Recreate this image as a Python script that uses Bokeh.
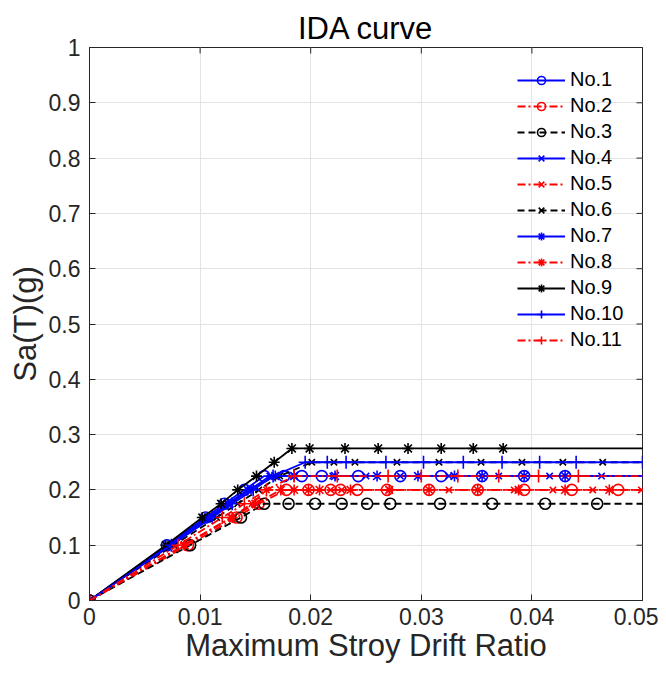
import math
from bokeh.plotting import figure
from bokeh.models import Range1d, FixedTicker, Legend, LegendItem
from bokeh.embed import file_html
from bokeh.resources import INLINE

x_ticks = [0, 0.01, 0.02, 0.03, 0.04, 0.05]
x_tick_labels = ["0", "0.01", "0.02", "0.03", "0.04", "0.05"]
y_ticks = [0, 0.1, 0.2, 0.3, 0.4, 0.5, 0.6, 0.7, 0.8, 0.9, 1.0]
y_tick_labels = ["0", "0.1", "0.2", "0.3", "0.4", "0.5", "0.6", "0.7", "0.8", "0.9", "1"]

names = ["No.1", "No.2", "No.3", "No.4", "No.5", "No.6", "No.7", "No.8", "No.9", "No.10", "No.11"]

no1_drift = [0, 0.0070, 0.0105, 0.0122, 0.0140, 0.0158, 0.0176, 0.0192, 0.0210, 0.0243, 0.0281, 0.0318, 0.0355, 0.0393, 0.0430, 0.0600]
no1_sa = [0, 0.1, 0.15, 0.175, 0.2, 0.225, 0.225, 0.225, 0.225, 0.225, 0.225, 0.225, 0.225, 0.225, 0.225, 0.225]

no2_drift = [0, 0.0089, 0.0133, 0.0153, 0.0178, 0.0198, 0.0218, 0.0227, 0.0242, 0.0269, 0.0307, 0.0351, 0.0393, 0.0436, 0.0478, 0.0600]
no2_sa = [0, 0.1, 0.15, 0.175, 0.2, 0.2, 0.2, 0.2, 0.2, 0.2, 0.2, 0.2, 0.2, 0.2, 0.2, 0.2]

no3_drift = [0, 0.0091, 0.0137, 0.0158, 0.0180, 0.0204, 0.0228, 0.0251, 0.0272, 0.0317, 0.0364, 0.0412, 0.0459, 0.0600]
no3_sa = [0, 0.1, 0.15, 0.175, 0.175, 0.175, 0.175, 0.175, 0.175, 0.175, 0.175, 0.175, 0.175, 0.175]

no4_drift = [0, 0.0073, 0.0109, 0.0127, 0.0145, 0.0163, 0.0185, 0.0220, 0.0250, 0.0281, 0.0325, 0.0370, 0.0416, 0.0463, 0.0600]
no4_sa = [0, 0.1, 0.15, 0.175, 0.2, 0.225, 0.225, 0.225, 0.225, 0.225, 0.225, 0.225, 0.225, 0.225, 0.225]

no5_drift = [0, 0.0085, 0.0128, 0.0147, 0.0160, 0.0218, 0.0228, 0.0271, 0.0325, 0.0384, 0.0419, 0.0455, 0.0499]
no5_sa = [0, 0.1, 0.15, 0.175, 0.2, 0.2, 0.2, 0.2, 0.2, 0.2, 0.2, 0.2, 0.2]

no6_drift = [0, 0.0076, 0.0115, 0.0134, 0.0153, 0.0172, 0.0201, 0.0221, 0.0240, 0.0278, 0.0316, 0.0354, 0.0391, 0.0428, 0.0464, 0.0600]
no6_sa = [0, 0.1, 0.15, 0.175, 0.2, 0.225, 0.25, 0.25, 0.25, 0.25, 0.25, 0.25, 0.25, 0.25, 0.25, 0.25]

no7_drift = [0, 0.0071, 0.0107, 0.0125, 0.0143, 0.0168, 0.0185, 0.0222, 0.0260, 0.0297, 0.0330, 0.0355, 0.0393, 0.0430, 0.0600]
no7_sa = [0, 0.1, 0.15, 0.175, 0.2, 0.225, 0.225, 0.225, 0.225, 0.225, 0.225, 0.225, 0.225, 0.225, 0.225]

no8_drift = [0, 0.0086, 0.0129, 0.0150, 0.0173, 0.0185, 0.0198, 0.0208, 0.0236, 0.0271, 0.0307, 0.0351, 0.0388, 0.0430, 0.0470, 0.0600]
no8_sa = [0, 0.1, 0.15, 0.175, 0.2, 0.2, 0.2, 0.2, 0.2, 0.2, 0.2, 0.2, 0.2, 0.2, 0.2, 0.2]

no9_drift = [0, 0.0069, 0.0102, 0.0119, 0.0134, 0.0151, 0.0167, 0.0183, 0.0199, 0.0231, 0.0261, 0.0288, 0.0318, 0.0347, 0.0374, 0.0600]
no9_sa = [0, 0.1, 0.15, 0.175, 0.2, 0.225, 0.25, 0.275, 0.275, 0.275, 0.275, 0.275, 0.275, 0.275, 0.275, 0.275]

no10_drift = [0, 0.0074, 0.0111, 0.0129, 0.0148, 0.0166, 0.0195, 0.0215, 0.0232, 0.0268, 0.0302, 0.0338, 0.0373, 0.0407, 0.0440, 0.0500]
no10_sa = [0, 0.1, 0.15, 0.175, 0.2, 0.225, 0.25, 0.25, 0.25, 0.25, 0.25, 0.25, 0.25, 0.25, 0.25, 0.25]

no11_drift = [0, 0.0080, 0.0120, 0.0140, 0.0160, 0.0185, 0.0224, 0.0270, 0.0300, 0.0333, 0.0370, 0.0406, 0.0442, 0.0600]
no11_sa = [0, 0.1, 0.15, 0.175, 0.2, 0.225, 0.225, 0.225, 0.225, 0.225, 0.225, 0.225, 0.225, 0.225]

drifts = [no1_drift, no2_drift, no3_drift, no4_drift, no5_drift, no6_drift,
          no7_drift, no8_drift, no9_drift, no10_drift, no11_drift]
sas = [no1_sa, no2_sa, no3_sa, no4_sa, no5_sa, no6_sa,
       no7_sa, no8_sa, no9_sa, no10_sa, no11_sa]

BLUE, RED, BLACK = "#0000ff", "#ff0000", "#000000"
SOLID, DASH, DASHDOT = "solid", "7 4", "8 3 2 3"
colors = [BLUE, RED, BLACK, BLUE, RED, BLACK, BLUE, RED, BLACK, BLUE, RED]
dashes = [SOLID, DASHDOT, DASH, SOLID, DASHDOT, DASH, SOLID, DASHDOT, SOLID, SOLID, DASHDOT]
markers = ["circle", "circle", "circle", "x", "x", "x", "asterisk", "asterisk", "asterisk", "cross", "cross"]
msizes = {"circle": 11, "x": 9, "asterisk": 11, "cross": 13}

AX = "#262626"
FONT = "Liberation Sans"

p = figure(width=658, height=676, output_backend="svg", toolbar_location=None,
           x_range=Range1d(0, 0.05), y_range=Range1d(0, 1),
           min_border_left=89, min_border_right=16, min_border_top=47, min_border_bottom=76)
p.background_fill_color = "white"
p.border_fill_color = "white"
p.outline_line_color = AX
p.outline_line_width = 1

p.title.text = "IDA curve"
p.title.align = "center"
p.title.text_font = FONT
p.title.text_font_size = "31px"
p.title.text_font_style = "normal"
p.title.text_color = "#000000"
p.title.standoff = 4

for ax, ticks, labels in ((p.xaxis[0], x_ticks, x_tick_labels), (p.yaxis[0], y_ticks, y_tick_labels)):
    ax.ticker = FixedTicker(ticks=ticks)
    ax.major_label_overrides = {t: l for t, l in zip(ticks, labels)}
    ax.major_tick_in = 6
    ax.major_tick_out = 0
    ax.minor_tick_line_color = None
    ax.axis_line_color = AX
    ax.major_tick_line_color = AX
    ax.major_label_text_font = FONT
    ax.major_label_text_font_size = "23px"
    ax.major_label_text_color = AX
    ax.axis_label_text_font = FONT
    ax.axis_label_text_font_size = "31px"
    ax.axis_label_text_font_style = "normal"
    ax.axis_label_text_color = AX

p.xaxis[0].axis_label = "Maximum Stroy Drift Ratio"
p.yaxis[0].axis_label = "Sa(T)(g)"
p.xaxis[0].major_label_standoff = 7
p.yaxis[0].major_label_standoff = 9
p.xaxis[0].axis_label_standoff = 0
p.yaxis[0].axis_label_standoff = 3

p.xgrid.ticker = FixedTicker(ticks=x_ticks)
p.ygrid.ticker = FixedTicker(ticks=y_ticks)
p.grid.grid_line_color = "#e3e3e3"
p.grid.grid_line_width = 1

# mirrored tick marks on top and right edges (MATLAB box style)
p.scatter([0.05] * len(y_ticks), y_ticks, marker="dash", size=12, line_color=AX, line_width=1)
p.scatter(x_ticks, [1.0] * len(x_ticks), marker="dash", size=12, angle=math.pi / 2,
          line_color=AX, line_width=1)

items = []
for name, xs, ys, c, d, m in zip(names, drifts, sas, colors, dashes, markers):
    ln = p.line(xs, ys, line_color=c, line_width=1.8, line_dash=d)
    sc = p.scatter(xs, ys, marker=m, size=msizes[m], line_color=c, line_width=1.6,
                   fill_color=None)
    items.append(LegendItem(label=name, renderers=[ln, sc]))

legend = Legend(items=items, location=(428, 249))
legend.background_fill_alpha = 0
legend.border_line_color = None
legend.padding = 0
legend.margin = 0
legend.spacing = 3
legend.glyph_width = 48
legend.glyph_height = 20
legend.label_height = 20
legend.label_standoff = 5
legend.label_text_font = FONT
legend.label_text_font_size = "20px"
legend.label_text_color = "#000000"
p.add_layout(legend, "center")

open("out.html", "w").write(file_html(p, INLINE))
